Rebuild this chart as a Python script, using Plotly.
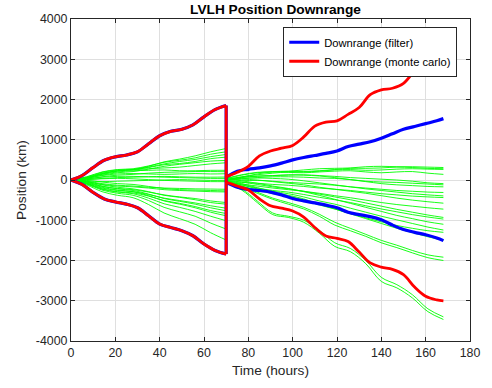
import plotly.graph_objects as go

# ---------------- data ----------------
# time grids (hours)
t_env1 = [0, 5, 10, 15, 20, 25, 30, 35, 40, 45, 50, 55, 60, 65, 70]
t_env2 = [70, 75, 80, 85, 90, 95, 100, 105, 110, 115, 120, 125, 130, 135, 140,
          145, 150, 155, 160, 165, 168]
t_mc1 = [0, 7, 14, 21, 28, 35, 42, 49, 56, 63, 70]
t_mc2 = [70, 77, 84, 91, 98, 105, 112, 119, 126, 133, 140, 147, 154, 161, 168]

# monte carlo envelope (red), first and second arc
mc_upper_1 = [0, 110, 310, 490, 575, 620, 700, 900, 1100, 1210, 1260, 1370, 1570, 1750, 1850]
mc_lower_1 = [0, -110, -310, -470, -545, -600, -690, -890, -1095, -1180, -1260, -1385, -1590, -1750, -1840]
mc_upper_2 = [80, 190, 340, 600, 720, 790, 860, 1070, 1340, 1440, 1470, 1630, 1800, 2120, 2240,
              2280, 2400, 2720, 3020, 3160, 3190]
mc_lower_2 = [-60, -150, -250, -470, -640, -700, -770, -920, -1180, -1390, -1450, -1530, -1790,
              -2060, -2165, -2220, -2350, -2660, -2890, -2980, -3005]

# filter envelope (blue); first arc coincides with the monte carlo envelope
filt_upper_1 = mc_upper_1
filt_lower_1 = mc_lower_1
filt_upper_2 = [70, 220, 265, 300, 350, 420, 500, 560, 610, 660, 720, 830, 890, 950, 1040,
                1150, 1260, 1330, 1400, 1470, 1525]
filt_lower_2 = [-60, -180, -235, -260, -300, -370, -460, -520, -570, -625, -690, -800, -860,
                -910, -990, -1120, -1230, -1300, -1360, -1440, -1506]

# individual monte carlo runs (green), first arc
runs_1 = [
    [0, 60, 170, 230, 260, 340, 450, 520, 600, 700, 782],
    [0, 80, 200, 260, 280, 350, 440, 490, 550, 640, 700],
    [0, 50, 150, 220, 260, 320, 400, 460, 510, 580, 634],
    [0, 70, 190, 250, 260, 310, 380, 410, 460, 530, 568],
    [0, 40, 120, 180, 210, 270, 340, 390, 430, 470, 486],
    [0, 60, 160, 230, 250, 280, 300, 320, 360, 400, 428],
    [0, 50, 140, 200, 230, 240, 250, 230, 230, 240, 240],
    [0, 20, 80, 120, 140, 170, 190, 200, 210, 210, 206],
    [0, 40, 110, 150, 160, 150, 140, 150, 160, 150, 156],
    [0, 10, 40, 60, 70, 80, 90, 80, 70, 70, 74],
    [0, 30, 70, 90, 90, 80, 70, 60, 50, 40, 41],
    [0, -20, -40, -30, -20, -10, 0, 10, 0, -10, -8],
    [0, 10, 30, 40, 30, 10, -10, -20, -30, -40, -41],
    [0, -30, -90, -130, -150, -180, -200, -210, -220, -225, -230],
    [0, -10, -50, -90, -110, -160, -210, -240, -250, -260, -272],
    [0, -40, -110, -150, -170, -200, -240, -260, -275, -290, -296],
    [0, -60, -160, -210, -240, -300, -370, -420, -460, -520, -560],
    [0, -40, -120, -180, -220, -290, -380, -430, -490, -560, -600],
    [0, -80, -200, -260, -290, -360, -450, -510, -570, -640, -700],
    [0, -50, -150, -220, -260, -350, -460, -530, -600, -690, -765],
    [0, -90, -220, -290, -320, -400, -510, -580, -660, -760, -832],
    [0, -70, -180, -250, -290, -390, -520, -600, -690, -800, -889],
    [0, -90, -230, -300, -340, -450, -590, -680, -780, -900, -1012],
    [0, -100, -250, -330, -380, -510, -680, -790, -900, -1070, -1218],
    [0, -120, -290, -380, -440, -610, -820, -960, -1100, -1310, -1490],
]

# individual monte carlo runs (green), second arc
runs_2 = [
    [30, 120, 180, 210, 220, 250, 280, 290, 300, 330, 340, 330, 330, 320, 310],
    [10, 80, 130, 170, 200, 210, 230, 260, 290, 290, 300, 320, 310, 290, 280],
    [0, 70, 150, 200, 210, 200, 220, 250, 260, 240, 250, 270, 280, 270, 263],
    [40, 130, 190, 200, 190, 180, 200, 220, 230, 200, 180, 200, 210, 170, 140],
    [0, 60, 100, 110, 120, 130, 110, 90, 60, 40, 20, 0, -30, -70, -90],
    [-20, 30, 60, 80, 80, 70, 50, 40, 10, -30, -50, -60, -80, -100, -120],
    [20, 70, 90, 110, 130, 120, 100, 60, 10, -40, -90, -120, -140, -160, -170],
    [-30, -20, -10, -30, -60, -80, -100, -130, -170, -200, -230, -260, -280, -300, -310],
    [0, 40, 50, 40, 20, -20, -70, -120, -170, -220, -260, -300, -340, -370, -395],
    [-40, -60, -80, -110, -130, -160, -200, -230, -260, -300, -340, -370, -400, -420, -436],
    [10, 20, 0, -40, -80, -120, -180, -230, -280, -330, -390, -450, -500, -540, -576],
    [-60, -100, -150, -200, -240, -280, -330, -390, -440, -500, -560, -610, -650, -690, -724],
    [-10, -50, -110, -170, -220, -280, -350, -420, -490, -570, -650, -730, -800, -870, -930],
    [-50, -120, -200, -260, -300, -360, -430, -490, -560, -640, -720, -790, -860, -920, -971],
    [30, -20, -80, -150, -210, -290, -380, -480, -580, -680, -780, -880, -960, -1040, -1100],
    [-20, -90, -190, -280, -340, -420, -520, -600, -700, -800, -900, -990, -1080, -1170, -1243],
    [-70, -150, -250, -340, -400, -500, -620, -720, -830, -940, -1040, -1130, -1200, -1260, -1300],
    [-30, -120, -220, -320, -380, -470, -600, -720, -840, -960, -1080, -1200, -1310, -1410, -1500],
    [-40, -150, -300, -450, -560, -680, -850, -1050, -1200, -1350, -1500, -1620, -1750, -1860, -1918],
    [-60, -170, -330, -480, -600, -720, -900, -1120, -1260, -1400, -1560, -1680, -1810, -1930, -2000],
    [-50, -220, -520, -820, -900, -1000, -1250, -1560, -1700, -2000, -2420, -2600, -2850, -3200, -3400],
    [-70, -250, -560, -860, -930, -1050, -1320, -1650, -1780, -2080, -2520, -2680, -2930, -3270, -3465],
]

x_ticks = [0, 20, 40, 60, 80, 100, 120, 140, 160, 180]
y_ticks = [-4000, -3000, -2000, -1000, 0, 1000, 2000, 3000, 4000]

title_text = "LVLH Position Downrange"
x_label = "Time (hours)"
y_label = "Position (km)"
name_filter = "Downrange (filter)"
name_mc = "Downrange (monte carlo)"

# ---------------- figure ----------------
FONT = "Liberation Sans, Arial, Helvetica, sans-serif"
fig = go.Figure()


def envelope_xy(up1, lo1, up2, lo2):
    xs, ys = [], []
    xs += t_env1 + [None]; ys += up1 + [None]
    xs += [t_env1[-1], t_env1[-1], None]; ys += [up1[-1], lo1[-1], None]
    xs += t_env1 + [None]; ys += lo1 + [None]
    xs += t_env2 + [None]; ys += up2 + [None]
    xs += t_env2; ys += lo2
    return xs, ys


gx, gy = [], []
for r in runs_1:
    gx += t_mc1 + [None]; gy += r + [None]
for r in runs_2:
    gx += t_mc2 + [None]; gy += r + [None]
fig.add_trace(go.Scatter(x=gx, y=gy, mode="lines", showlegend=False,
                         line=dict(color="#00ff00", width=0.9, shape="spline", smoothing=1.0),
                         hoverinfo="skip"))

bx, by = envelope_xy(filt_upper_1, filt_lower_1, filt_upper_2, filt_lower_2)
fig.add_trace(go.Scatter(x=bx, y=by, mode="lines", name=name_filter,
                         line=dict(color="#0000ff", width=3.2, shape="spline", smoothing=1.0)))

rx, ry = envelope_xy(mc_upper_1, mc_lower_1, mc_upper_2, mc_lower_2)
fig.add_trace(go.Scatter(x=rx, y=ry, mode="lines", name=name_mc,
                         line=dict(color="#ff0000", width=2.8, shape="spline", smoothing=1.0)))

axis_common = dict(
    showgrid=True, gridcolor="#dfdfdf", gridwidth=1,
    showline=True, linecolor="#262626", linewidth=1, mirror="ticks",
    ticks="inside", ticklen=4, tickcolor="#262626", tickwidth=1,
    zeroline=False, tickfont=dict(family=FONT, size=12.4, color="#262626"),
)

fig.update_layout(
    width=492, height=388,
    margin=dict(l=71, r=12, t=17, b=47),
    paper_bgcolor="white", plot_bgcolor="white",
    font=dict(family=FONT, color="#262626"),
    title=dict(text="<b>" + title_text + "</b>", x=0.5 * (71 + 480) / 492, xanchor="center",
               y=1 - 9 / 388, yanchor="middle",
               font=dict(family=FONT, size=13.7, color="#000000")),
    xaxis=dict(range=[0, 180], tickvals=x_ticks, ticktext=[str(v) for v in x_ticks],
               title=dict(text=x_label, font=dict(family=FONT, size=13.7, color="#262626"), standoff=6),
               **axis_common),
    yaxis=dict(range=[-4000, 4000], tickvals=y_ticks, ticktext=[str(v) for v in y_ticks],
               title=dict(text=y_label, font=dict(family=FONT, size=13.7, color="#262626"), standoff=6),
               **axis_common),
    legend=dict(x=0.968, xanchor="right", y=0.976, yanchor="top",
                bgcolor="white", bordercolor="#262626", borderwidth=1,
                font=dict(family=FONT, size=11.2, color="#000000"),
                tracegroupgap=0),
    showlegend=True,
)

fig.write_html("out.html")
